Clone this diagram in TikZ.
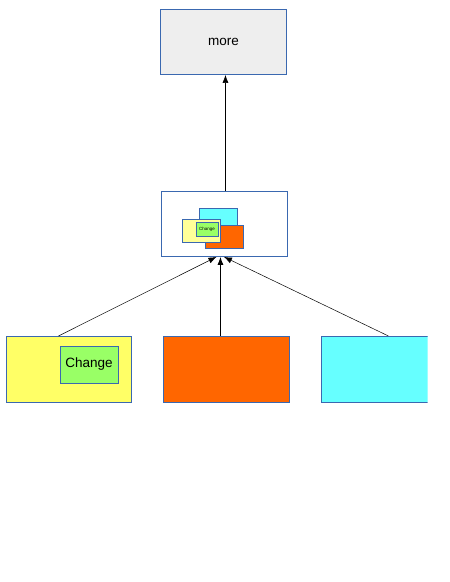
\documentclass[tikz,border=0pt]{standalone}
\usepackage{fontspec}
\setmainfont{Liberation Sans}
\usetikzlibrary{arrows.meta}
\definecolor{bord}{HTML}{3A68B0}
\definecolor{grayfill}{HTML}{EEEEEE}
\definecolor{yel}{HTML}{FFFF66}
\definecolor{lyel}{HTML}{FFFF99}
\definecolor{grn}{HTML}{99FF66}
\definecolor{org}{HTML}{FF6600}
\definecolor{cyn}{HTML}{66FFFF}
\tikzset{
  box/.style={draw=bord, line width=0.9pt, rectangle, inner sep=0pt, anchor=north west},
  conn/.style={draw=black, line width=0.6pt, -{Latex[length=8pt,width=6pt]}},
  lbl/.style={font=\fontsize{13.5}{15}\selectfont}
}
\begin{document}
\begin{tikzpicture}[x=1pt,y=-1pt]
\useasboundingbox (0,0) rectangle (450,582);
% top box
\node[box, fill=grayfill, minimum width=126pt, minimum height=65pt, lbl] (more) at (160,9) {more};
% middle box
\node[box, fill=white, minimum width=126pt, minimum height=65pt] (mid) at (161,191) {};
\node[box, fill=cyn, line width=0.6pt, minimum width=38pt, minimum height=23pt] (mc) at (199,208) {};
\node[box, fill=org, line width=0.6pt, minimum width=38pt, minimum height=23pt] (mo) at (205,225) {};
\node[box, fill=lyel, line width=0.6pt, minimum width=38pt, minimum height=23pt] (my) at (182,219) {};
\node[box, fill=grn, line width=0.6pt, minimum width=21.5pt, minimum height=14pt, font=\fontsize{4.5}{5}\selectfont] (mg) at (196,222.3) {Change};
% bottom boxes
\node[box, fill=yel, minimum width=125pt, minimum height=66pt] (y) at (6,336) {};
\node[box, fill=grn, minimum width=58pt, minimum height=37pt, lbl] (g) at (59.5,345.5) {Change};
\node[box, fill=org, minimum width=126pt, minimum height=66pt] (o) at (163,336) {};
\begin{scope}
\clip (0,0) rectangle (427.5,582);
\node[box, fill=cyn, minimum width=126pt, minimum height=66pt] (c) at (321,336) {};
\end{scope}
% connectors
\draw[conn] ([xshift=1pt]mid.north) -- ([xshift=2pt]more.south);
\draw[conn, line width=0.5pt] ([xshift=-10.5pt]y.north) -- ([xshift=-8pt]mid.south);
\draw[conn, line width=0.8pt] ([xshift=-6pt]o.north) -- ([xshift=-4pt]mid.south);
\draw[conn, line width=0.5pt] ([xshift=4pt]c.north) -- ([xshift=-0.5pt]mid.south);
\end{tikzpicture}
\end{document}
